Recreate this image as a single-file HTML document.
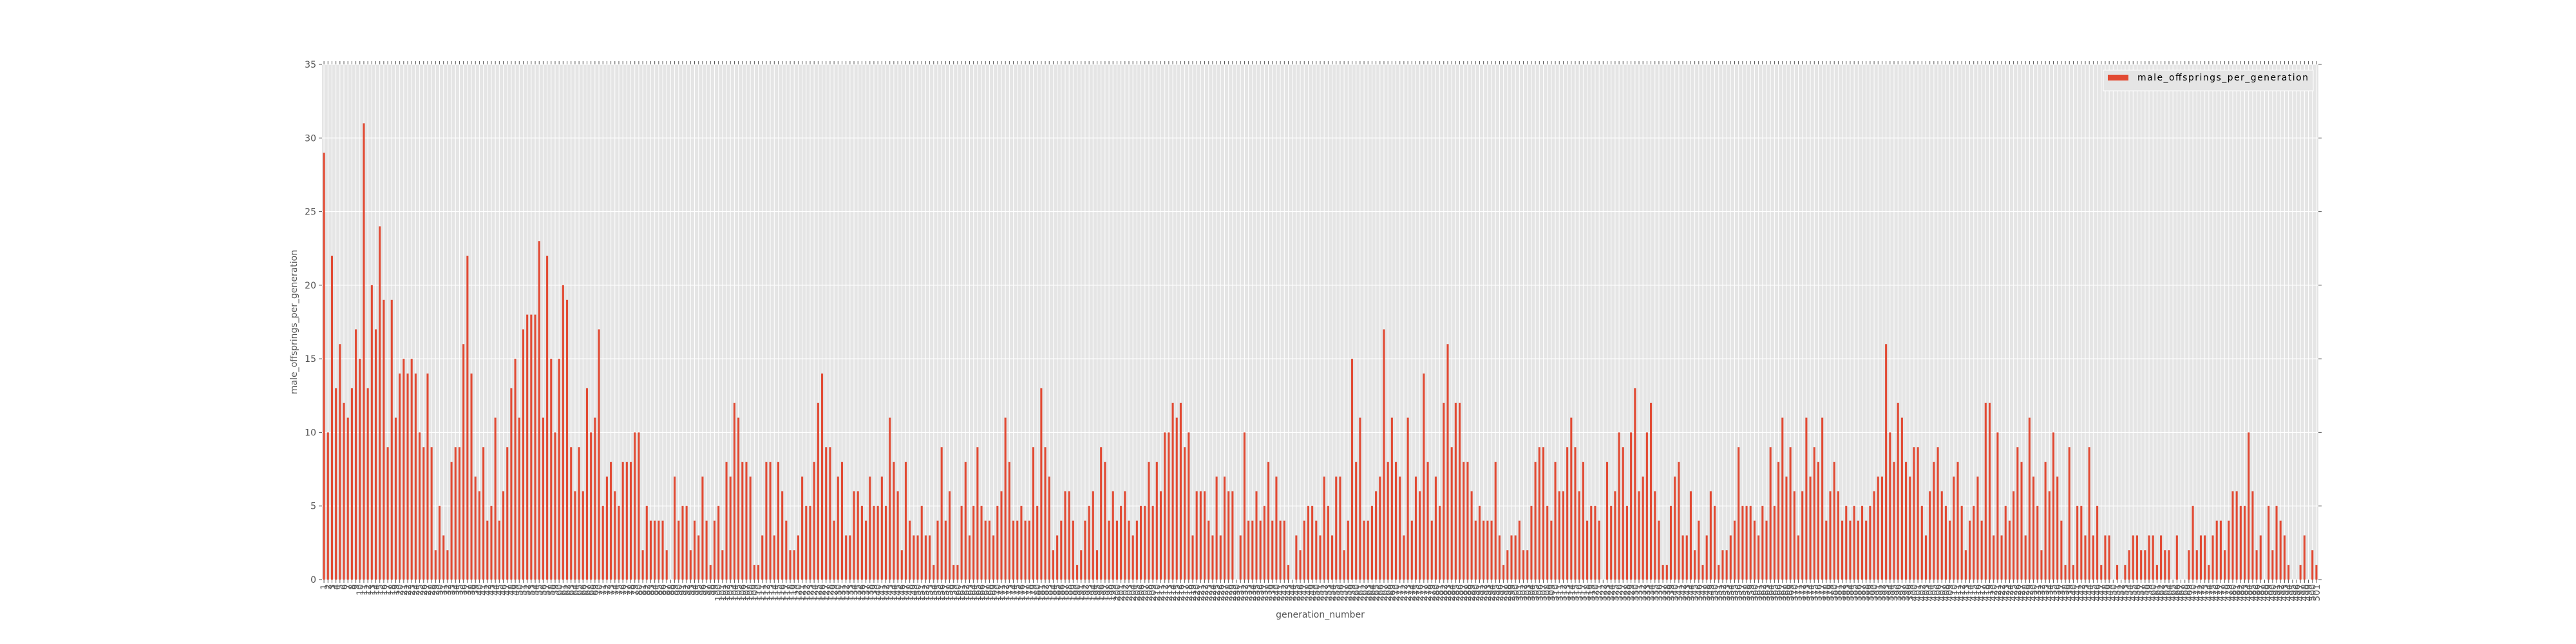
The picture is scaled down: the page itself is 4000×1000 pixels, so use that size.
<!DOCTYPE html>
<html><head><meta charset="utf-8"><style>
html,body{margin:0;padding:0;background:#fff;}
svg{display:block;font-family:"DejaVu Sans","Liberation Sans",sans-serif;}
</style></head>
<body>
<svg id="chart" width="4000" height="1000" viewBox="0 0 4000 1000" xmlns="http://www.w3.org/2000/svg">
<rect x="0" y="0" width="4000" height="1000" fill="#fff"/>
<rect x="500" y="100" width="3100" height="800" fill="#E5E5E5"/>
<g id="grid"></g>
<g id="bars"></g>
<g id="ticks"></g>
<g id="xlabels" font-size="14" fill="#555"></g>
<g id="ylabels" font-size="14" fill="#555"></g>
<text x="0" y="0" transform="translate(461,500) rotate(-90)" text-anchor="middle" font-size="14" fill="#555">male_offsprings_per_generation</text>
<text x="2050" y="959" text-anchor="middle" font-size="14" fill="#555">generation_number</text>
<g>
<rect x="3266" y="109" width="326" height="32" fill="#E5E5E5" stroke="#fff" stroke-width="1"/>
<rect x="3273" y="116" width="32" height="9" fill="#E24A33"/>
<text x="3319" y="125" font-size="14" fill="#000" textLength="265">male_offsprings_per_generation</text>
</g>
</svg>
<script>
const valuesA = [29,10,22,13,16,12,11,13,17,15,31,13,20,17,24,19,9,19,11,14,15,14,15,14,10,9,14,9,2,5,3,2,8,9,9,16,22,14,7,6,9,4,5,11,4,6,9,13,15,11,17,18];
const valuesB = [18,18,23,11,22,15,10,15,20,19,9,6,9,6,13,10,11,17,5,7,8,6,5,8,8,8,10,10,2,5,4,4,4,4,2,0,7,4,5];
const valuesC = [5,2,4,3,7,4,1,4,5,2,8,7,12,11,8,8,7,1,1,3,8,8,3,8,6,4,2,2,3,7,5,5,8,12,14,9,9,4,7,8];
const valuesD = [3,3,6,6,5,4,7,5,5,7,5,11,8,6,2,8,4,3,3,5,3,3,1,4,9,4,6,1,1,5,8,3,5,9,5,4,4,3,5,6];
const valuesE = [11,8,4,4,5,4,4,9,5,13,9,7,2,3,4,6,6,4,1,2,4,5,6,2,9,8,4,6,4,5,6,4,3,4,5,5,8,5,8,6];
const valuesF = [10,10,12,11,12,9,10,3,6,6,6,4,3,7,3,7,6,6,0,3,10,4,4,6,4,5,8,4,7,4,4,1,0,3,2,4,5,5,4,3];
const valuesG = [7,5,3,7,7,2,4,15,8,11,4,4,5,6,7,17,8,11,8,7,3,11,4,7,6,14,8,4,7,5,12,16,9,12,12,8,8,6,4,5];
const valuesH = [4,4,4,8,3,1,2,3,3,4,2,2,5,8,9,9,5,4,8,6,6,9,11,9,6,8,4,5,5,4,0,8,5,6,10,9,5,10,13,6];
const valuesI = [7,10,12,6,4,1,1,5,7,8,3,3,6,2,4,1,3,6,5,1,2,2,3,4,9,5,5,5,4,3,5,4,9,5,8,11,7,9,6,3];
const valuesJ = [6,11,7,9,8,11,4,6,8,6,4,5,4,5,4,5,4,5,6,7,7,16,10,8,12,11,8,7,9,9,5,3,6,8,9,6,5,4,7,8];
const valuesK = [5,2,4,5,7,4,12,12,3,10,3,5,4,6,9,8,3,11,7,5,2,8,6,10,7,4,1,9,1,5,5,3,9,3,5,1,3,3];
const valuesL = [0,1,0,1,2,3,3,2,2,3,3,1,3,2,2,0,3,0,0,2,5,2,3,3,1,3,4,4,2,4,6,6,5,5,10,6,2,3,0,5,2,5,4,3,1,0,0,1,3,0,2,1];
const values = [].concat(valuesA, valuesB, valuesC, valuesD, valuesE, valuesF, valuesG, valuesH, valuesI, valuesJ, valuesK, valuesL);
const categories = values.map((v, i) => String(i + 1));
const yTicks = [0, 5, 10, 15, 20, 25, 30, 35];

const L = 500, R = 3600, T = 100, B = 900, YMAX = 35;
const N = values.length;
const step = (R - L) / N;
function xScale(i) { return L + (i + 0.5) * step; }
function yScale(v) { return B - (v / YMAX) * (B - T); }
const NS = 'http://www.w3.org/2000/svg';
function mk(tag, attrs, parent) {
  const e = document.createElementNS(NS, tag);
  for (const k in attrs) e.setAttribute(k, attrs[k]);
  parent.appendChild(e);
  return e;
}
const grid = document.getElementById('grid');
const bars = document.getElementById('bars');
const ticks = document.getElementById('ticks');
const xl = document.getElementById('xlabels');
const yl = document.getElementById('ylabels');

yTicks.forEach(t => {
  const y = yScale(t);
  const g = mk('line', {x1: L, x2: R, y1: y, y2: y, stroke: '#fff', 'stroke-width': 1.2}, grid);
  
  
  const tk = mk('path', {d: `M${L - 5},${y}H${L}M${R},${y}H${R + 5}`, stroke: '#555', 'stroke-width': 1}, ticks);
  
  
  const lb = mk('text', {x: L - 9, y: y + 5, 'text-anchor': 'end'}, yl);
  lb.textContent = String(t);
  
  
});

let tickPath = '';
values.forEach((v, i) => {
  const x = xScale(i);
  const gl = mk('line', {x1: x, x2: x, y1: T, y2: B, stroke: '#fff', 'stroke-width': 1}, grid);
  
  
  tickPath += `M${x},${T - 5}V${T}M${x},${B}V${B + 5}`;
  const h = B - yScale(v);
  if (h > 0) {
    const r = mk('rect', {x: x - step * 0.25, y: yScale(v), width: step * 0.5, height: h, fill: '#E24A33'}, bars);
    
    
  }
  const t = mk('text', {transform: `translate(${x + 5},${B + 7}) rotate(-90)`, 'text-anchor': 'end'}, xl);
  t.textContent = categories[i];
  
  
});
const tp = mk('path', {d: tickPath, stroke: '#555', 'stroke-width': 1}, ticks);


</script>
</body></html>
